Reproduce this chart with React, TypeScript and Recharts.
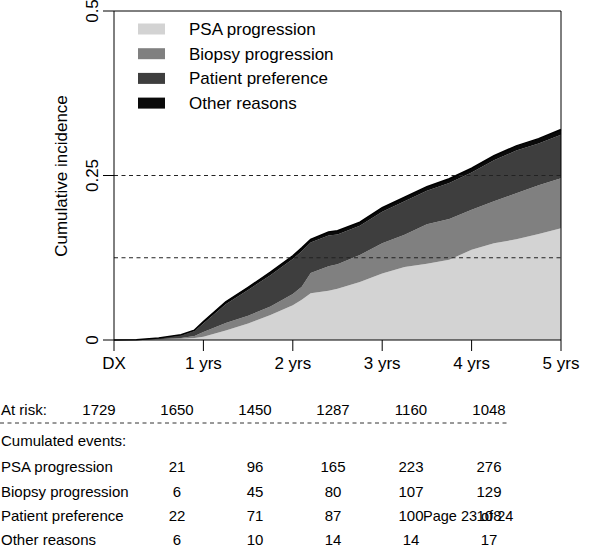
import React from 'react';
import { AreaChart, Area, XAxis, YAxis, ReferenceLine } from 'recharts';

// years since diagnosis
const years = [0, 0.25, 0.5, 0.75, 0.9, 1.0, 1.25, 1.5, 1.75, 2.0, 2.1, 2.2, 2.4, 2.5, 2.75, 3.0, 3.25, 3.5, 3.75, 4.0, 4.25, 4.5, 4.75, 5.0];
// stacked cumulative incidence layers
const psa = [0, 0.0001, 0.0006, 0.002, 0.003, 0.005, 0.0144, 0.025, 0.038, 0.053, 0.061, 0.071, 0.075, 0.078, 0.088, 0.101, 0.111, 0.116, 0.122, 0.137, 0.147, 0.153, 0.161, 0.17];
const biopsy = [0, 0.0001, 0.0006, 0.001, 0.003, 0.007, 0.0116, 0.012, 0.013, 0.017, 0.02, 0.031, 0.037, 0.037, 0.041, 0.046, 0.049, 0.06, 0.062, 0.061, 0.064, 0.07, 0.074, 0.076];
const patient = [0, 0.0002, 0.0013, 0.004, 0.0075, 0.013, 0.0285, 0.039, 0.0475, 0.053, 0.054, 0.046, 0.047, 0.0455, 0.0445, 0.048, 0.051, 0.051, 0.0545, 0.0565, 0.062, 0.065, 0.0635, 0.066];
const other = [0, 0.0001, 0.0005, 0.001, 0.0015, 0.003, 0.0035, 0.004, 0.0045, 0.005, 0.005, 0.005, 0.005, 0.0055, 0.0055, 0.006, 0.006, 0.006, 0.0065, 0.0065, 0.007, 0.007, 0.0075, 0.008];

const xTicks = [0, 1, 2, 3, 4, 5];
const yTicks = [0, 0.25, 0.5];
const guideLines = [0.25, 0.125];

const seriesNames = ['PSA progression', 'Biopsy progression', 'Patient preference', 'Other reasons'];
const seriesColors = ['#d3d3d3', '#808080', '#3e3e3e', '#0a0a0a'];

const atRisk = [1729, 1650, 1450, 1287, 1160, 1048];
const evPsa = [21, 96, 165, 223, 276];
const evBiopsy = [6, 45, 80, 107, 129];
const evPatient = [22, 71, 87, 100, 108];
const evOther = [6, 10, 14, 14, 17];

const data = years.map((t, i) => ({
  t,
  psa: psa[i],
  biopsy: biopsy[i],
  patient: patient[i],
  other: other[i],
}));

const FONT = "'Liberation Sans', Arial, sans-serif";

const YTick = ({ x, y, payload }: any) => (
  <text
    x={x}
    y={y}
    transform={`rotate(-90 ${x} ${y})`}
    textAnchor="middle"
    fontSize={17}
    fill="#000"
    fontFamily={FONT}
  >
    {String(payload.value)}
  </text>
);

const colX = (i: number) => 99 + 78 * i;

export default function App() {
  const eventRows = [
    { name: 'PSA progression', vals: evPsa, y: 472 },
    { name: 'Biopsy progression', vals: evBiopsy, y: 496.5 },
    { name: 'Patient preference', vals: evPatient, y: 521 },
    { name: 'Other reasons', vals: evOther, y: 545 },
  ];

  return (
    <div style={{ position: 'absolute', left: 0, top: 0, width: 600, height: 546, overflow: 'hidden', background: '#fff', fontFamily: FONT }}>
      <AreaChart width={600} height={380} data={data} margin={{ top: 11, right: 39, left: 0, bottom: 0 }}>
        <XAxis
          type="number"
          dataKey="t"
          domain={[0, 5]}
          ticks={xTicks}
          tickFormatter={(v) => (v === 0 ? 'DX' : `${v} yrs`)}
          tickSize={11}
          tickMargin={6}
          height={40}
          axisLine={{ stroke: '#000' }}
          tickLine={{ stroke: '#000' }}
          tick={{ fontSize: 17, fill: '#000', fontFamily: FONT }}
        />
        <YAxis
          type="number"
          domain={[0, 0.5]}
          ticks={yTicks}
          width={114}
          tickSize={11}
          tickMargin={5}
          axisLine={{ stroke: '#000' }}
          tickLine={{ stroke: '#000' }}
          tick={<YTick />}
        />
        <Area type="linear" dataKey="psa" stackId="1" stroke="none" fill={seriesColors[0]} fillOpacity={1} isAnimationActive={false} />
        <Area type="linear" dataKey="biopsy" stackId="1" stroke="none" fill={seriesColors[1]} fillOpacity={1} isAnimationActive={false} />
        <Area type="linear" dataKey="patient" stackId="1" stroke="none" fill={seriesColors[2]} fillOpacity={1} isAnimationActive={false} />
        <Area type="linear" dataKey="other" stackId="1" stroke="#000" strokeWidth={1.5} fill={seriesColors[3]} fillOpacity={1} isAnimationActive={false} />
        {guideLines.map((g) => (
          <ReferenceLine key={g} y={g} stroke="#222" strokeDasharray="4 3.5" />
        ))}
        <ReferenceLine y={0.5} stroke="#000" />
        <ReferenceLine x={5} stroke="#000" />
      </AreaChart>

      <svg width={600} height={546} style={{ position: 'absolute', left: 0, top: 0, pointerEvents: 'none' }} fontFamily={FONT}>
        <text x={67} y={176} transform="rotate(-90 67 176)" textAnchor="middle" fontSize={17} fill="#000">
          Cumulative incidence
        </text>

        {seriesNames.map((n, i) => {
          const cy = 29 + 24.7 * i;
          return (
            <g key={n}>
              <rect x={138} y={cy - 5.5} width={27} height={11} fill={seriesColors[i]} />
              <text x={189} y={cy + 6} fontSize={17} fill="#000">{n}</text>
            </g>
          );
        })}

        <text x={1} y={415} fontSize={15} fill="#000">At risk:</text>
        {atRisk.map((v, i) => (
          <text key={i} x={colX(i)} y={415} fontSize={15} textAnchor="middle" fill="#000">{v}</text>
        ))}
        <line x1={0} x2={508} y1={423} y2={423} stroke="#333" strokeDasharray="4 3.5" />
        <text x={1} y={446} fontSize={15} fill="#000">Cumulated events:</text>
        {eventRows.map((r) => (
          <g key={r.name}>
            <text x={1} y={r.y} fontSize={15} fill="#000">{r.name}</text>
            {r.vals.map((v, i) => (
              <text key={i} x={colX(i + 1)} y={r.y} fontSize={15} textAnchor="middle" fill="#000">{v}</text>
            ))}
          </g>
        ))}
        <text x={423} y={521} fontSize={14.5} fill="#000">Page 23 of 24</text>
      </svg>
    </div>
  );
}
